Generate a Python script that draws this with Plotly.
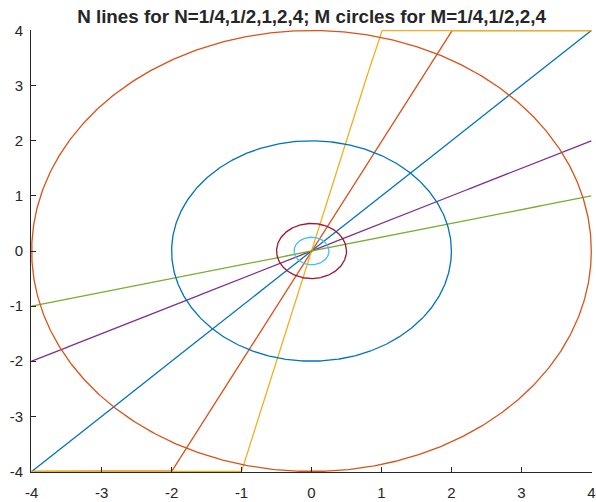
import numpy as np
import plotly.graph_objects as go

# Slopes of the lines y = N*x, in plotting order
line_N = [1, 2, 4, 0.5, 0.25]
line_colors = ["#0072BD", "#D95319", "#EDB120", "#7E2F8E", "#77AC30"]

# Radii of the circles |z| = M, in plotting order
circle_M = [0.25, 0.5, 2, 4]
circle_colors = ["#4DBEEE", "#A2142F", "#0072BD", "#D95319"]

x_ticks = [-4, -3, -2, -1, 0, 1, 2, 3, 4]
y_ticks = [-4, -3, -2, -1, 0, 1, 2, 3, 4]
x_tick_labels = ["-4", "-3", "-2", "-1", "0", "1", "2", "3", "4"]
y_tick_labels = ["-4", "-3", "-2", "-1", "0", "1", "2", "3", "4"]
lim = 4

fig = go.Figure()

x = np.linspace(-lim, lim, 1601)
for n, c in zip(line_N, line_colors):
    y = np.clip(n * x, -lim, lim)
    fig.add_trace(go.Scatter(x=x, y=y, mode="lines",
                             line=dict(color=c, width=1.3), hoverinfo="skip"))

theta = np.linspace(0, 2 * np.pi, 721)
for m, c in zip(circle_M, circle_colors):
    fig.add_trace(go.Scatter(x=m * np.cos(theta), y=m * np.sin(theta), mode="lines",
                             line=dict(color=c, width=1.3), hoverinfo="skip"))

axis_style = dict(
    showgrid=False, zeroline=False, showline=True, linecolor="#262626", linewidth=1,
    ticks="inside", ticklen=5, tickwidth=1, tickcolor="#262626",
    tickfont=dict(family="Liberation Sans", size=15, color="#262626"),
    mirror=False, automargin=False,
)

fig.update_layout(
    width=596, height=502,
    margin=dict(l=31, r=4, t=30, b=30),
    paper_bgcolor="white", plot_bgcolor="white",
    showlegend=False,
    title=dict(text="<b>N lines for N=1/4,1/2,1,2,4; M circles for M=1/4,1/2,2,4</b>",
               font=dict(family="Liberation Sans", size=18.8, color="#262626"),
               x=0.5, xref="paper", xanchor="center",
               y=1 - 16 / 502, yref="container", yanchor="middle"),
    xaxis=dict(range=[-4.01, 4.01], tickvals=x_ticks, ticktext=x_tick_labels,
               ticklabelstandoff=7, **axis_style),
    yaxis=dict(range=[-4.01, 4.01], tickvals=y_ticks, ticktext=y_tick_labels,
               ticklabelstandoff=4, **axis_style),
)

fig.write_html("out.html")
